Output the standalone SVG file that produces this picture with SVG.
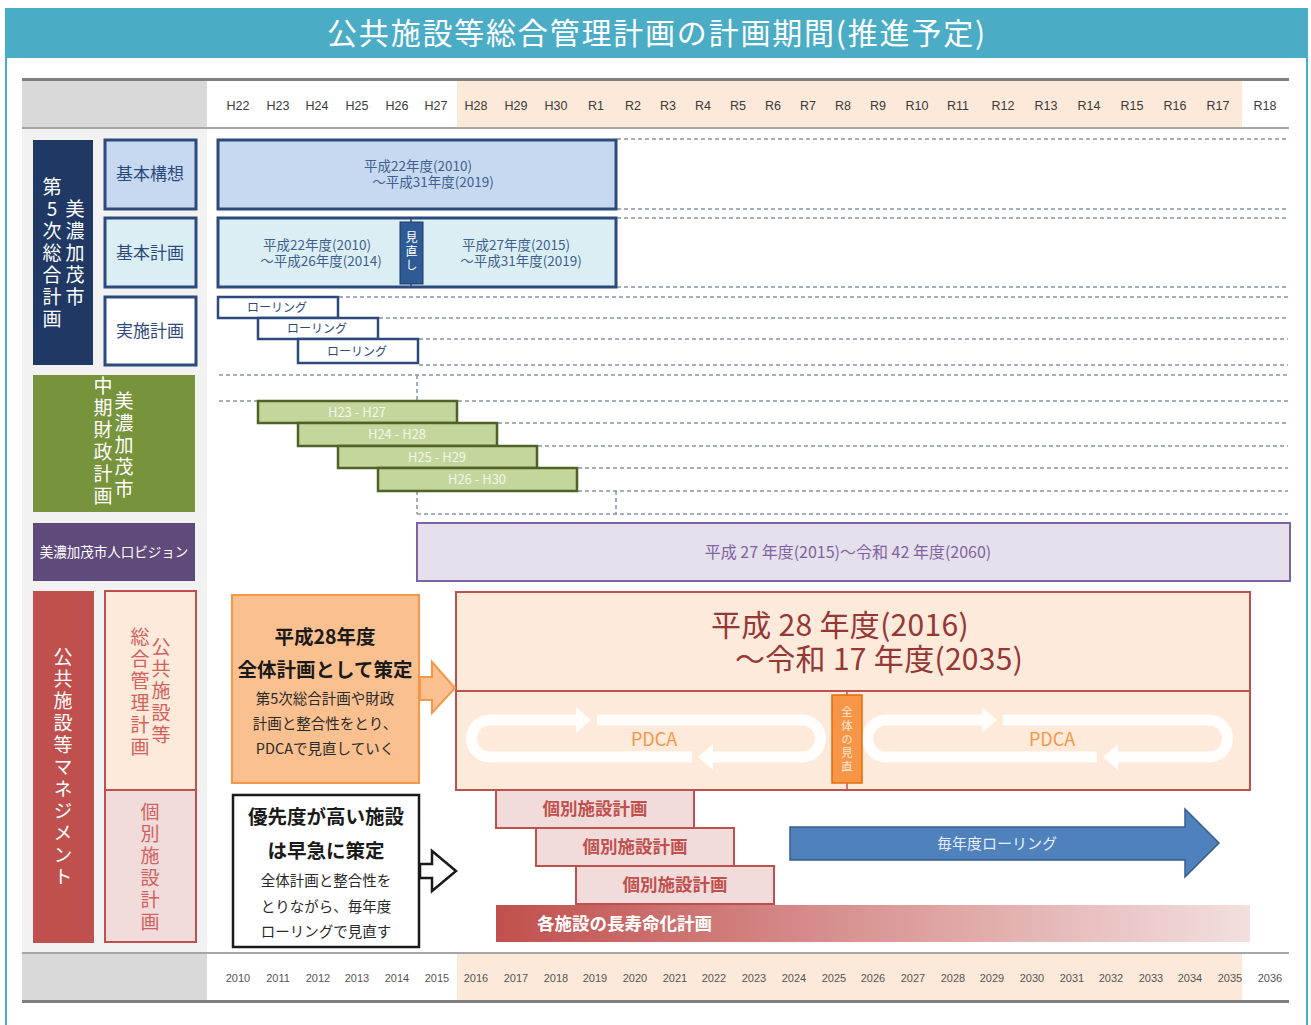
<svg xmlns="http://www.w3.org/2000/svg" width="1311" height="1025" viewBox="0 0 1311 1025">
<defs>
<style>
text{font-family:"Noto Sans CJK JP","Noto Sans",sans-serif;}
.yr{font-family:"Liberation Sans","Noto Sans",sans-serif;font-size:12.5px;fill:#3a3a3a;text-anchor:middle;}
.yb{font-family:"Liberation Sans","Noto Sans",sans-serif;font-size:11px;fill:#555;text-anchor:middle;}
.dash{stroke:#8793A8;stroke-width:1.5;stroke-dasharray:4 3;fill:none;}
.vt{writing-mode:vertical-rl;text-orientation:upright;font-size:19px;letter-spacing:3px;}
.vw{fill:#fff;}
.vr{fill:#D0615E;}
.lbl{font-size:17px;fill:#2C4A7C;text-anchor:middle;}
.bt{font-size:13.5px;fill:#3F5F8F;text-anchor:middle;}
.roll{fill:#fff;stroke:#2C4A7C;stroke-width:2.5;}
.rt{font-size:12px;fill:#2C4A7C;text-anchor:middle;}
.gbar{fill:#C3D69B;stroke:#4F6228;stroke-width:2.5;}
.gt{font-size:13px;fill:#F4F7EE;text-anchor:middle;}
.kb{fill:#F2DCDB;stroke:#C0504D;stroke-width:2;}
.kt{font-size:17.5px;font-weight:bold;fill:#C0504D;text-anchor:middle;}
.loop{fill:none;stroke:#fff;stroke-width:11;stroke-opacity:0.92;}
.head{fill:#fff;fill-opacity:0.92;}
.pdca{font-size:18px;fill:#F79646;text-anchor:middle;}
.big{font-size:19.5px;font-weight:bold;fill:#1a1a1a;text-anchor:middle;}
.sm{font-size:14.5px;fill:#2a2a2a;text-anchor:middle;}
.red{font-size:30px;fill:#953735;letter-spacing:0.3px;}
</style>
<linearGradient id="grad" x1="0" y1="0" x2="1" y2="0">
<stop offset="0" stop-color="#C0504D"/>
<stop offset="1" stop-color="#F3DFDF"/>
</linearGradient>
</defs>

<!-- frame & title -->
<rect x="0" y="0" width="1311" height="1025" fill="#fff"/>
<rect x="5" y="8" width="1303" height="50" fill="#4BACC6"/>
<line x1="6" y1="58" x2="6" y2="1025" stroke="#4BACC6" stroke-width="2"/>
<line x1="1307" y1="58" x2="1307" y2="1025" stroke="#4BACC6" stroke-width="2"/>
<text x="657" y="44" font-size="30" letter-spacing="1.8" fill="#fff" text-anchor="middle">公共施設等総合管理計画の計画期間(推進予定)</text>

<!-- header -->
<g id="header">
<rect x="22" y="81" width="185" height="47" fill="#D9D9D9"/>
<rect x="207" y="81" width="250" height="47" fill="#fff"/>
<rect x="457" y="81" width="785" height="47" fill="#FDE9D9"/>
<line x1="22" y1="79.5" x2="1289" y2="79.5" stroke="#7F7F7F" stroke-width="3"/>
<line x1="22" y1="128" x2="1289" y2="128" stroke="#A6A6A6" stroke-width="2"/>
<text class="yr" x="238" y="110">H22</text><text class="yr" x="278" y="110">H23</text><text class="yr" x="317" y="110">H24</text><text class="yr" x="357" y="110">H25</text><text class="yr" x="397" y="110">H26</text><text class="yr" x="436" y="110">H27</text><text class="yr" x="476" y="110">H28</text><text class="yr" x="516" y="110">H29</text><text class="yr" x="556" y="110">H30</text><text class="yr" x="596" y="110">R1</text><text class="yr" x="633" y="110">R2</text><text class="yr" x="668" y="110">R3</text><text class="yr" x="703" y="110">R4</text><text class="yr" x="738" y="110">R5</text><text class="yr" x="773" y="110">R6</text><text class="yr" x="808" y="110">R7</text><text class="yr" x="843" y="110">R8</text><text class="yr" x="878" y="110">R9</text><text class="yr" x="917" y="110">R10</text><text class="yr" x="958" y="110">R11</text><text class="yr" x="1003" y="110">R12</text><text class="yr" x="1046" y="110">R13</text><text class="yr" x="1089" y="110">R14</text><text class="yr" x="1132" y="110">R15</text><text class="yr" x="1175" y="110">R16</text><text class="yr" x="1218" y="110">R17</text><text class="yr" x="1265" y="110">R18</text>
</g>

<!-- left background -->
<rect x="22" y="129" width="185" height="824" fill="#F2F2F2"/>

<!-- footer -->
<g id="footer">
<rect x="22" y="954" width="185" height="46" fill="#D9D9D9"/>
<rect x="457" y="954" width="785" height="46" fill="#FDE9D9"/>
<line x1="22" y1="953" x2="1289" y2="953" stroke="#A6A6A6" stroke-width="2"/>
<line x1="22" y1="1001.5" x2="1289" y2="1001.5" stroke="#7F7F7F" stroke-width="3"/>
<text class="yb" x="238" y="982">2010</text><text class="yb" x="278" y="982">2011</text><text class="yb" x="318" y="982">2012</text><text class="yb" x="357" y="982">2013</text><text class="yb" x="397" y="982">2014</text><text class="yb" x="437" y="982">2015</text><text class="yb" x="476" y="982">2016</text><text class="yb" x="516" y="982">2017</text><text class="yb" x="556" y="982">2018</text><text class="yb" x="595" y="982">2019</text><text class="yb" x="635" y="982">2020</text><text class="yb" x="675" y="982">2021</text><text class="yb" x="714" y="982">2022</text><text class="yb" x="754" y="982">2023</text><text class="yb" x="794" y="982">2024</text><text class="yb" x="834" y="982">2025</text><text class="yb" x="873" y="982">2026</text><text class="yb" x="913" y="982">2027</text><text class="yb" x="953" y="982">2028</text><text class="yb" x="992" y="982">2029</text><text class="yb" x="1032" y="982">2030</text><text class="yb" x="1072" y="982">2031</text><text class="yb" x="1111" y="982">2032</text><text class="yb" x="1151" y="982">2033</text><text class="yb" x="1190" y="982">2034</text><text class="yb" x="1230" y="982">2035</text><text class="yb" x="1270" y="982">2036</text>
</g>

<!-- guide dashed lines -->
<g id="guides">
<line class="dash" x1="617" y1="139" x2="1288" y2="139"/>
<line class="dash" x1="617" y1="209" x2="1288" y2="209"/>
<line class="dash" x1="617" y1="218" x2="1288" y2="218"/>
<line class="dash" x1="617" y1="287" x2="1288" y2="287"/>
<line class="dash" x1="339" y1="297" x2="1288" y2="297"/>
<line class="dash" x1="379" y1="318" x2="1288" y2="318"/>
<line class="dash" x1="419" y1="339" x2="1288" y2="339"/>
<line class="dash" x1="419" y1="365" x2="1288" y2="365"/>
<line class="dash" x1="219" y1="375" x2="1288" y2="375"/>
<line class="dash" x1="219" y1="401" x2="257" y2="401"/>
<line class="dash" x1="458" y1="401" x2="1288" y2="401"/>
<line class="dash" x1="498" y1="423" x2="1288" y2="423"/>
<line class="dash" x1="538" y1="446" x2="1288" y2="446"/>
<line class="dash" x1="578" y1="468" x2="1288" y2="468"/>
<line class="dash" x1="578" y1="491" x2="1288" y2="491"/>
<line class="dash" x1="417" y1="514" x2="1288" y2="514"/>
<line class="dash" x1="417" y1="375" x2="417" y2="401"/>
<line class="dash" x1="417" y1="491" x2="417" y2="514"/>
<line class="dash" x1="616" y1="491" x2="616" y2="514"/>
</g>

<!-- left labels -->
<g id="lbl-sogo">
<rect x="33" y="140" width="60" height="225" fill="#1F3864"/>
<text class="vt vw" x="52" y="177.5">第5次総合計画</text>
<text class="vt vw" x="75" y="199.5">美濃加茂市</text>
</g>
<g id="lbl-kihonkoso"><rect x="105" y="140" width="91" height="69" fill="#C6D9F0" stroke="#2C4A7C" stroke-width="3"/><text class="lbl" x="150" y="180">基本構想</text></g>
<g id="lbl-kihonkeikaku"><rect x="105" y="218" width="91" height="69" fill="#DBEEF4" stroke="#2C4A7C" stroke-width="3"/><text class="lbl" x="150" y="259">基本計画</text></g>
<g id="lbl-jisshi"><rect x="105" y="297" width="91" height="68" fill="#fff" stroke="#2C4A7C" stroke-width="3"/><text class="lbl" x="150" y="337">実施計画</text></g>

<g id="lbl-zaisei">
<rect x="33" y="375" width="162" height="137" fill="#77933C"/>
<text class="vt vw" x="103" y="376" letter-spacing="3.6">中期財政計画</text>
<text class="vt vw" x="124" y="391.5">美濃加茂市</text>
</g>
<g id="lbl-vision"><rect x="33" y="523" width="162" height="58" fill="#604A7B"/><text x="114" y="557" font-size="13.5" fill="#fff" text-anchor="middle">美濃加茂市人口ビジョン</text></g>

<g id="lbl-management">
<rect x="33" y="591" width="61" height="352" fill="#C0504D"/>
<text class="vt vw" x="63" y="647.5" letter-spacing="3.1">公共施設等マネジメント</text>
</g>
<g id="lbl-sogokanri">
<rect x="105" y="591" width="91" height="199" fill="#FDEADA" stroke="#C0504D" stroke-width="2"/>
<text class="vt vr" x="161" y="637.5" letter-spacing="2.5">公共施設等</text>
<text class="vt vr" x="140" y="627.5" letter-spacing="2.5">総合管理計画</text>
</g>
<g id="lbl-kobetsu">
<rect x="105" y="790" width="91" height="152" fill="#F2DCDB" stroke="#C0504D" stroke-width="2"/>
<text class="vt vr" x="150" y="802.5">個別施設計画</text>
</g>

<!-- 5th plan bars -->
<g id="bar-kihonkoso">
<rect x="218" y="140" width="398" height="69" fill="#C6D9F0" stroke="#2C4A7C" stroke-width="3"/>
<text class="bt"><tspan x="418" y="171">平成22年度(2010)</tspan><tspan x="433" y="187">～平成31年度(2019)</tspan></text>
</g>
<g id="bar-kihonkeikaku">
<rect x="218" y="218" width="398" height="69" fill="#DBEEF4" stroke="#2C4A7C" stroke-width="3"/>
<text class="bt"><tspan x="317" y="250">平成22年度(2010)</tspan><tspan x="321" y="266">～平成26年度(2014)</tspan></text>
<text class="bt"><tspan x="516" y="250">平成27年度(2015)</tspan><tspan x="521" y="266">～平成31年度(2019)</tspan></text>
<line x1="411" y1="218" x2="411" y2="287" stroke="#2C4A7C" stroke-width="1.5"/>
<rect x="400" y="222" width="23" height="62" fill="#2E5A96" stroke="#1F3864" stroke-width="1"/>
<text x="411.5" y="231" font-size="12" letter-spacing="2" fill="#fff" style="writing-mode:vertical-rl;text-orientation:upright">見直し</text>
</g>
<g id="bar-rolling1"><rect class="roll" x="218" y="297" width="120" height="21"/><text class="rt" x="277" y="312">ローリング</text></g>
<g id="bar-rolling2"><rect class="roll" x="258" y="318" width="120" height="21"/><text class="rt" x="317" y="333">ローリング</text></g>
<g id="bar-rolling3"><rect class="roll" x="298" y="339" width="120" height="24"/><text class="rt" x="357" y="356">ローリング</text></g>

<!-- financial plan bars -->
<g id="bar-h23"><rect class="gbar" x="258" y="401" width="199" height="22"/><text class="gt" x="357" y="417">H23 - H27</text></g>
<g id="bar-h24"><rect class="gbar" x="298" y="423" width="199" height="23"/><text class="gt" x="397" y="439">H24 - H28</text></g>
<g id="bar-h25"><rect class="gbar" x="338" y="446" width="199" height="22"/><text class="gt" x="437" y="462">H25 - H29</text></g>
<g id="bar-h26"><rect class="gbar" x="378" y="468" width="199" height="23"/><text class="gt" x="477" y="484">H26 - H30</text></g>

<!-- vision bar -->
<g id="bar-vision">
<rect x="417" y="523" width="873" height="58" fill="#E5E0EC" stroke="#8064A2" stroke-width="2"/>
<text x="848" y="558" font-size="16" fill="#8064A2" text-anchor="middle">平成 27 年度(2015)～令和 42 年度(2060)</text>
</g>

<!-- orange box -->
<g id="box-zentai">
<rect x="232" y="595" width="187" height="188" fill="#FAC090" stroke="#F79646" stroke-width="2"/>
<text class="big" x="325" y="644" font-size="20">平成28年度</text>
<text class="big" x="325" y="677">全体計画として策定</text>
<text class="sm" x="325" y="704">第5次総合計画や財政</text>
<text class="sm" x="325" y="729">計画と整合性をとり、</text>
<text class="sm" x="325" y="754">PDCAで見直していく</text>
</g>
<!-- black box -->
<g id="box-yusen">
<rect x="233" y="795" width="186" height="152" fill="#fff" stroke="#1a1a1a" stroke-width="2.5"/>
<text class="big" x="326" y="824">優先度が高い施設</text>
<text class="big" x="326" y="858">は早急に策定</text>
<text class="sm" x="326" y="886">全体計画と整合性を</text>
<text class="sm" x="326" y="912">とりながら、毎年度</text>
<text class="sm" x="326" y="937">ローリングで見直す</text>
</g>

<!-- management plan box -->
<g id="bar-sogokanri">
<rect x="456" y="592" width="794" height="198" fill="#FDEADA" stroke="#C0504D" stroke-width="2"/>
<line x1="456" y1="691" x2="1250" y2="691" stroke="#C0504D" stroke-width="2"/>
<text class="red"><tspan x="711" y="636">平成 28 年度(2016)</tspan><tspan x="735" y="670">～令和 17 年度(2035)</tspan></text>
<path class="loop" d="M692,757 H490 A18.5,18.5 0 0 1 490,720 H576"/>
<polygon class="head" points="576,707 591,720 576,733"/>
<path class="loop" d="M597,720 H802 A18.5,18.5 0 0 1 802,757 H713"/>
<polygon class="head" points="713,744 698,757 713,770"/>
<text class="pdca" x="654" y="746">PDCA</text>
<path class="loop" d="M1097,757 H886 A18.5,18.5 0 0 1 886,720 H982"/>
<polygon class="head" points="982,707 997,720 982,733"/>
<path class="loop" d="M1003,720 H1209 A18.5,18.5 0 0 1 1209,757 H1118"/>
<polygon class="head" points="1118,744 1103,757 1118,770"/>
<text class="pdca" x="1052" y="746">PDCA</text>
<line x1="847" y1="691" x2="847" y2="790" stroke="#C0504D" stroke-width="1.5"/>
<rect x="832" y="695" width="30" height="88" fill="#F79646" stroke="#E46C0A" stroke-width="1.5"/>
<text x="847" y="706" font-size="11.5" letter-spacing="2.2" fill="#FDE9D9" style="writing-mode:vertical-rl;text-orientation:upright">全体の見直</text>
</g>

<!-- individual facility plans -->
<g id="bar-kobetsu1"><rect class="kb" x="496" y="790" width="198" height="38"/><text class="kt" x="595" y="815">個別施設計画</text></g>
<g id="bar-kobetsu2"><rect class="kb" x="536" y="828" width="198" height="38"/><text class="kt" x="635" y="853">個別施設計画</text></g>
<g id="bar-kobetsu3"><rect class="kb" x="576" y="866" width="198" height="38"/><text class="kt" x="675" y="891">個別施設計画</text></g>
<g id="bar-chojumyo"><rect x="496" y="905" width="754" height="37" fill="url(#grad)"/><text x="537" y="930" font-size="17.5" font-weight="bold" fill="#fff">各施設の長寿命化計画</text></g>

<!-- connectors -->
<g id="connectors">
<polygon points="420,677 432,677 432,662 455,688 432,713 432,700 420,700" fill="#FAC090" stroke="#F79646" stroke-width="2"/>
<polygon points="420,864 432,864 432,851 456,871 432,891 432,878 420,878" fill="#fff" stroke="#1a1a1a" stroke-width="2.5"/>
<polygon points="790,827 1185,827 1185,809 1219,843 1185,877 1185,860 790,860" fill="#4F81BD" stroke="#385D8A" stroke-width="1.5"/>
<text x="997" y="849" font-size="15" fill="#E8EEF7" text-anchor="middle">毎年度ローリング</text>
</g>
</svg>
